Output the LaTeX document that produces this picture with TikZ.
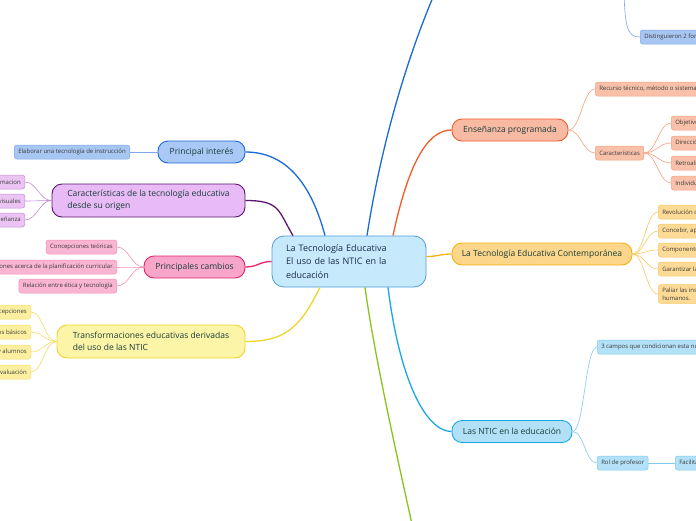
\documentclass[tikz,border=0pt]{standalone}
\usepackage{fontspec}
\setmainfont{Open Sans}
\usetikzlibrary{positioning}

\definecolor{hubfill}{HTML}{C6EAFB}
\definecolor{hubline}{HTML}{4D9DDB}
\definecolor{hubtxt}{HTML}{17284A}
\definecolor{toptxt}{HTML}{173D3A}
\definecolor{leaftxt}{HTML}{3A3A3A}
\definecolor{bluefill}{HTML}{A9C8F5}
\definecolor{blueline}{HTML}{1A6AD8}
\definecolor{bluetip}{HTML}{A8C6F2}
\definecolor{blueedge}{HTML}{7BA9EC}
\definecolor{purfill}{HTML}{E9BBF6}
\definecolor{purline}{HTML}{5C1470}
\definecolor{purtip}{HTML}{ECC4F4}
\definecolor{puredge}{HTML}{C48FD6}
\definecolor{pinkfill}{HTML}{F7A6C9}
\definecolor{pinkline}{HTML}{E4246F}
\definecolor{pinktip}{HTML}{F9B5D2}
\definecolor{pinkedge}{HTML}{F38FB7}
\definecolor{yelfill}{HTML}{FCF4A6}
\definecolor{yelline}{HTML}{F0D52A}
\definecolor{yeltip}{HTML}{FCF0A0}
\definecolor{yeledge}{HTML}{F5DD63}
\definecolor{redfill}{HTML}{F8BAA3}
\definecolor{redline}{HTML}{F25C28}
\definecolor{redtip}{HTML}{F9C1AA}
\definecolor{rededge}{HTML}{F6A182}
\definecolor{orafill}{HTML}{FCD68A}
\definecolor{oraline}{HTML}{F6B20C}
\definecolor{oratip}{HTML}{FDDA95}
\definecolor{oraedge}{HTML}{F9C863}
\definecolor{cyanfill}{HTML}{B1E0F7}
\definecolor{cyanline}{HTML}{1AA6EA}
\definecolor{cyantip}{HTML}{B3E1F7}
\definecolor{cyanedge}{HTML}{7FCCEF}
\definecolor{greenline}{HTML}{8AC21E}

\begin{document}
\begin{tikzpicture}[x=1pt,y=-1pt,
    hub/.style={draw=hubline, fill=hubfill, line width=0.8pt, rounded corners=12pt,
      minimum width=154pt, minimum height=51pt, text width=126pt, inner xsep=14pt,
      align=left, text=hubtxt, font=\fontsize{9}{13.5}\selectfont},
    topic/.style={line width=0.9pt, rounded corners=10pt, minimum height=22pt,
      text=toptxt, font=\fontsize{8.5}{12}\selectfont},
    leaf/.style={line width=0.5pt, rounded corners=2.5pt, minimum height=14pt,
      inner xsep=4pt, inner ysep=3pt, align=left, text=leaftxt,
      font=\fontsize{6}{8}\selectfont},
    limb/.style={line width=1.3pt},
    twig/.style={line width=0.6pt,
      to path={.. controls +(12,0) and +(-12,0) .. (\tikztotarget)}}]

    \useasboundingbox (0,0) rectangle (696,520);
    \fill[white] (0,0) rectangle (696,520);

    % main topics
    \node[hub] (hub) at (349,261.5) {La Tecnología Educativa\\El uso de las NTIC en la\\educación};

    \node[topic, fill=bluefill, draw=blueline, minimum width=87pt] (interes) at (201.5,152) {Principal interés};
    \node[topic, fill=purfill, draw=purline, minimum width=193pt, minimum height=33pt,
      align=left] (origen) at (148.5,200.5)
      {Características de la tecnología educativa\\desde su origen};
    \node[topic, fill=pinkfill, draw=pinkline, minimum width=101pt] (cambios) at (194.5,267) {Principales cambios};
    \node[topic, fill=yelfill, draw=yelline, minimum width=188pt, minimum height=33pt,
      align=left] (transf) at (151,341.5)
      {Transformaciones educativas derivadas\\del uso de las NTIC};
    \node[topic, fill=redfill, draw=redline, minimum width=116pt] (programada) at (510,130) {Enseñanza programada};
    \node[topic, fill=orafill, draw=oraline, minimum width=180pt] (contemp) at (542,254) {La Tecnología Educativa Contemporánea};
    \node[topic, fill=cyanfill, draw=cyanline, minimum width=120pt] (ntic) at (512,431.5) {Las NTIC en la educación};

    \coordinate (upper) at (450,-40);
    \coordinate (lower) at (420,560);

    \draw[limb, blueline] ([xshift=-24pt]hub.north) .. controls +(-12,-45) and +(45,0) .. (interes.east);
    \draw[limb, purline] ([xshift=-56pt]hub.north) .. controls +(-15,-25) and +(35,0) .. (origen.east);
    \draw[limb, pinkline] (cambios.east) .. controls +(12,0) and +(-12,0) .. (hub.west);
    \draw[limb, yelline] ([xshift=-29pt]hub.south) .. controls +(-20,40) and +(40,0) .. (transf.east);
    \draw[limb, redline] ([xshift=44pt]hub.north) .. controls +(15,-70) and +(-25,0) .. (programada.west);
    \draw[limb, oraline] ([yshift=5pt]hub.east) .. controls +(12,0) and +(-12,0) .. (contemp.west);
    \draw[limb, cyanline] ([xshift=39pt]hub.south) .. controls +(12,95) and +(-25,0) .. (ntic.west);
    \draw[limb, blueline] ([xshift=18pt]hub.north) .. controls (385,120) and (420,20) .. (upper);
    \draw[limb, greenline] ([xshift=16pt]hub.south) .. controls (375,360) and (400,470) .. (lower);

    % left leaves
    \node[leaf, fill=bluetip, draw=blueedge, anchor=east] (elaborar) at (130,152) {Elaborar una tecnología de instrucción};
    \draw[blueedge, line width=0.6pt] (elaborar) -- (interes);

    \foreach \y/\txt [count=\i] in {182/Teoría de la informacion, 201/Medios audiovisuales, 220/Máquinas de enseñanza}
    {\node[leaf, fill=purtip, draw=puredge, anchor=east] (orig\i) at (25,\y) {\txt};
     \draw[twig, puredge] (orig\i.east) to (origen.west);}

    \foreach \y/\txt [count=\i] in {247/Concepciones teóricas, 267/Concepciones acerca de la planificación curricular, 286/Relación entre ética y tecnología}
    {\node[leaf, fill=pinktip, draw=pinkedge, anchor=east] (camb\i) at (117,\y) {\txt};
     \draw[twig, pinkedge] (camb\i.east) to (cambios.west);}

    \foreach \y/\txt [count=\i] in {312/Cambios en las concepciones, 332/Cambios en los recursos básicos, 352/Rol de profesores y alumnos, 372/Cambios en la evaluación}
    {\node[leaf, fill=yeltip, draw=yeledge, anchor=east] (trans\i) at (31,\y) {\txt};
     \draw[twig, yeledge] (trans\i.east) to (transf.west);}

    % right leaves
    \node[leaf, fill=bluetip, draw=blueedge, anchor=west] (distinguieron) at (640,37) {Distinguieron 2 formas de tecnología educativa};
    \coordinate (upleaf) at (624,-20);
    \draw[blueedge, line width=0.6pt] (upleaf) .. controls +(0,50) and +(-12,0) .. (distinguieron.west);

    \node[leaf, fill=redtip, draw=rededge, anchor=west] (recurso) at (595,89) {Recurso técnico, método o sistema de enseñanza};
    \node[leaf, fill=redtip, draw=rededge, anchor=west] (caract) at (595,153) {Características};
    \draw[twig, rededge] (programada.east) to (recurso.west);
    \draw[twig, rededge] (programada.east) to (caract.west);
    \foreach \y/\txt [count=\i] in {123/Objetivos de conducta, 143/Dirección del aprendizaje, 163/Retroalimentación, 183/Individualización}
    {\node[leaf, fill=redtip, draw=rededge, anchor=west] (rasgo\i) at (671,\y) {\txt};
     \draw[twig, rededge] (caract.east) to (rasgo\i.west);}

    \foreach \y/\txt [count=\i] in {212/Revolución científico-técnica, 231/{Concebir, aplicar y evaluar}, 250/Componentes del proceso, 269/Garantizar la calidad, 294/{Paliar las insuficiencias de los recursos\\humanos.}}
    {\node[leaf, fill=oratip, draw=oraedge, anchor=west] (cont\i) at (658,\y) {\txt};
     \draw[twig, oraedge] (contemp.east) to (cont\i.west);}

    \node[leaf, fill=cyantip, draw=cyanedge, anchor=west] (campos) at (597,347) {3 campos que condicionan esta nueva tecnología};
    \node[leaf, fill=cyantip, draw=cyanedge, anchor=west] (rol) at (597,463) {Rol de profesor};
    \node[leaf, fill=cyantip, draw=cyanedge, anchor=west] (facilita) at (675,463) {Facilitador del aprendizaje};
    \draw[twig, cyanedge] (ntic.east) to (campos.west);
    \draw[twig, cyanedge] (ntic.east) to (rol.west);
    \draw[cyanedge, line width=0.6pt] (rol) -- (facilita);

\end{tikzpicture}
\end{document}
